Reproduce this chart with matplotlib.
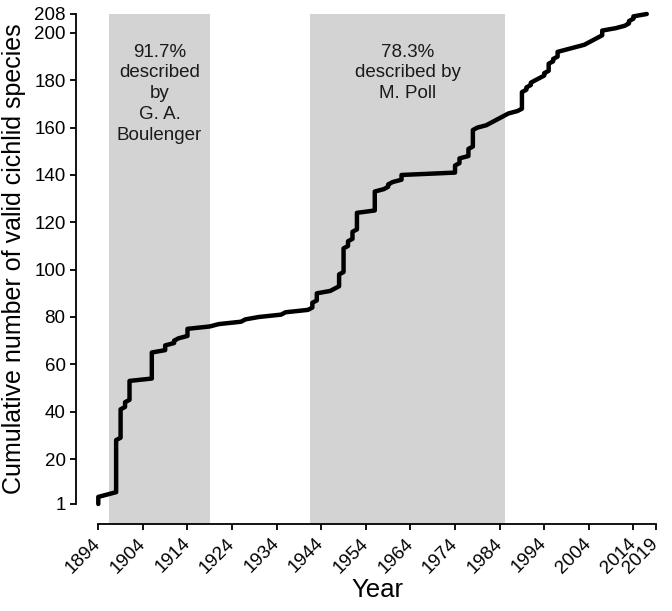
import numpy as np
import matplotlib
matplotlib.use('Agg')
import matplotlib.pyplot as plt

plt.rcParams['font.family'] = ['Liberation Sans', 'DejaVu Sans']

# Year of description and number of valid species described that year
years = [1894, 1896, 1898, 1899, 1900, 1901, 1906, 1909, 1911, 1912,
         1914, 1919, 1921, 1926, 1927, 1930, 1935, 1936, 1941, 1942,
         1943, 1946, 1947, 1948, 1949, 1950, 1951, 1952, 1956, 1958,
         1959, 1960, 1962, 1974, 1975, 1977, 1978, 1979, 1981, 1982,
         1983, 1984, 1985, 1986, 1988, 1989, 1990, 1991, 1992, 1993,
         1994, 1995, 1996, 1997, 1999, 2001, 2003, 2004, 2005, 2006,
         2007, 2010, 2012, 2013, 2014, 2017]
n_described = [4, 1, 23, 13, 3, 9, 12, 3, 2, 1,
               4, 1, 1, 1, 1, 1, 1, 1, 1, 3,
               4, 1, 1, 6, 11, 3, 4, 8, 9, 1,
               2, 1, 3, 4, 3, 4, 8, 1, 1, 1,
               1, 1, 1, 1, 1, 8, 2, 2, 1, 1,
               2, 4, 2, 3, 1, 1, 1, 1, 1, 1,
               3, 1, 1, 2, 2, 1]

# shaded periods and their labels
periods = [(1896.5, 1919.0), (1941.5, 1985.2)]
period_labels = ['91.7%\ndescribed\nby\nG. A.\nBoulenger',
                 '78.3%\ndescribed by\nM. Poll']

xticks = [1894, 1904, 1914, 1924, 1934, 1944, 1954, 1964, 1974, 1984,
          1994, 2004, 2014, 2019]
yticks = [1, 20, 40, 60, 80, 100, 120, 140, 160, 180, 200, 208]

# one point per species: (year, cumulative index)
cum = np.cumsum(n_described)
xs, ys = [], []
for yr, n, c in zip(years, n_described, cum):
    xs += [yr, yr]
    ys += [c - n + 1, c]

xlo, xhi = 1894 - 0.04 * 125, 2019 + 0.04 * 125
ylo, yhi = 1 - 0.04 * 207, 208 + 0.04 * 207

fig = plt.figure(figsize=(6.72, 6.11), dpi=100)
ax = fig.add_axes([76 / 672, 87.4 / 611, 602 / 672, 529.2 / 611])
ax.set_xlim(xlo, xhi)
ax.set_ylim(ylo, yhi)

for (a, b), lab in zip(periods, period_labels):
    ax.fill_between([a, b], ylo, 208, color='#d3d3d3', lw=0, zorder=0)
    ax.text((a + b) / 2, 195.5, lab, ha='center', va='top', fontsize=13.5,
            linespacing=1.3, color='#1a1a1a')

ax.plot(xs, ys, color='black', lw=3.2, solid_capstyle='round',
        solid_joinstyle='round', zorder=3)

for s in ['top', 'right']:
    ax.spines[s].set_visible(False)
ax.spines['left'].set_bounds(1, 208)
ax.spines['bottom'].set_bounds(1894, 2019)
for s in ['left', 'bottom']:
    ax.spines[s].set_linewidth(1.3)

ax.set_xticks(xticks)
ax.set_xticklabels([str(t) for t in xticks], rotation=45, ha='right',
                   va='center', rotation_mode='anchor')
ax.set_yticks(yticks)
ax.tick_params(length=4.5, width=1.3, labelsize=13.5, pad=3)
ax.tick_params(axis='x', pad=8)

ax.set_xlabel('Year', fontsize=18.5)
ax.xaxis.set_label_coords(0.5, -0.103)
ax.set_ylabel('Cumulative number of valid cichlid species', fontsize=18)
ax.yaxis.set_label_coords(-0.083, 0.5)

fig.savefig('out.png', dpi=100)
